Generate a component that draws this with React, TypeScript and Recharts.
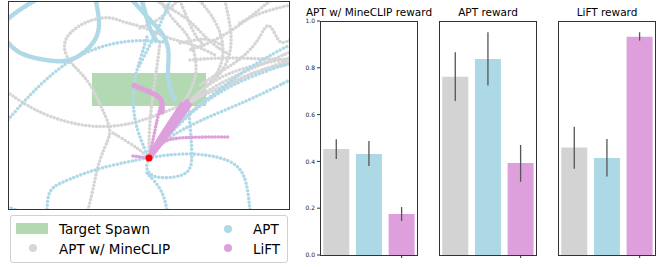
import React from 'react';
import {
  LineChart, Line, XAxis, YAxis, ReferenceArea, ReferenceDot,
  BarChart, Bar, Cell, ErrorBar,
} from 'recharts';

// trajectories (x, y in map units, y grows downward)
const spawn = [149, 158];
const targetX = [92, 206];
const targetY = [73, 106];

const grayPaths: number[][][] = [
  [[88, 210], [93, 190], [97, 168], [104, 148], [112, 133], [106, 117], [98, 100], [90, 83], [78, 70], [66, 58], [63, 43], [70, 32], [83, 23], [98, 18], [112, 17], [125, 23], [142, 26], [160, 35], [175, 40], [195, 45], [215, 55]],
  [[10, 94], [33, 110], [67, 123], [100, 128], [133, 124], [160, 114], [187, 103], [215, 90], [250, 74], [290, 60]],
  [[149, 158], [165, 130], [185, 105], [210, 82], [240, 68], [290, 58]],
  [[149, 158], [160, 135], [178, 112], [200, 95], [230, 78], [260, 65], [290, 52]],
  [[200, 1], [212, 15], [222, 35], [224, 55], [218, 75], [200, 92], [180, 110], [160, 135], [149, 158]],
  [[225, 1], [230, 23], [232, 43], [228, 63], [215, 80]],
  [[290, 40], [280, 45], [275, 33], [268, 22], [262, 33], [255, 45], [240, 60], [220, 72], [200, 85]],
  [[157, 1], [170, 8], [180, 14], [195, 25], [210, 43], [230, 55]],
  [[160, 43], [157, 67], [152, 100], [149, 130], [149, 158]],
  [[180, 1], [188, 20], [196, 38], [206, 47]],
  [[270, 1], [250, 17], [233, 30], [210, 43], [190, 50]],
  [[113, 133], [128, 142], [140, 150], [149, 158]],
  [[160, 1], [173, 20], [187, 33], [193, 47], [197, 65], [195, 83], [180, 110], [155, 145]],
  [[140, 28], [160, 20], [173, 5], [178, 1]],
  [[180, 43], [195, 40], [207, 38], [222, 45]],
  [[190, 60], [215, 58], [240, 58], [265, 59], [290, 60]],
  [[240, 23], [255, 15], [270, 10], [290, 5]],
  [[150, 158], [175, 125], [205, 100], [235, 80], [265, 68], [290, 64]],
];

const bluePaths: number[][][] = [
  [[8, 120], [25, 100], [45, 80], [67, 62], [90, 50], [117, 42], [143, 40], [165, 42]],
  [[147, 37], [140, 60], [133, 83], [133, 110], [137, 130], [145, 150], [149, 158]],
  [[149, 158], [175, 125], [200, 105], [225, 85], [257, 62], [290, 45]],
  [[149, 158], [180, 122], [207, 100], [240, 80], [290, 63]],
  [[149, 158], [163, 140], [200, 120], [250, 100], [290, 80]],
  [[149, 158], [165, 155], [195, 153], [225, 158], [240, 167], [247, 182], [250, 210]],
  [[149, 158], [145, 168], [152, 178], [175, 178], [192, 172], [192, 150], [190, 125], [188, 100]],
  [[147, 173], [160, 187], [165, 200], [167, 210]],
  [[147, 158], [127, 162], [100, 168], [80, 175], [60, 183], [48, 190], [47, 210]],
  [[170, 1], [160, 25], [150, 45], [138, 68]],
  [[8, 207], [16, 210]],
];

const blueThickPaths: number[][][] = [
  [[133, 1], [150, 20], [163, 33], [170, 50], [167, 73], [170, 90], [175, 100]],
  [[34, 1], [22, 8], [6, 20], [0, 28], [4, 38], [14, 50], [28, 57], [50, 61], [67, 62], [82, 55], [95, 42], [100, 28], [98, 12], [96, 1]],
  [[142, 1], [146, 15], [150, 30], [157, 42]],
];

const pinkPaths: number[][][] = [
  [[149, 158], [153, 140], [157, 120], [162, 100]],
  [[149, 158], [160, 143], [172, 138], [200, 137], [230, 137]],
  [[133, 156], [149, 158]],
];

const pinkThickPaths: number[][][] = [
  [[149, 158], [160, 138], [172, 120], [183, 103]],
  [[149, 158], [162, 135], [175, 118], [188, 100]],
  [[149, 158], [165, 138], [180, 118], [190, 104]],
  [[162, 112], [163, 98], [150, 92], [133, 85]],
];

// bar panels
const methods = ['APT w/ MineCLIP', 'APT', 'LiFT'];
const colors = ['#d3d3d3', '#add8e6', '#dda0dd'];
const panelTitles = ['APT w/ MineCLIP reward', 'APT reward', 'LiFT reward'];
const yTicks = [0, 0.2, 0.4, 0.6, 0.8, 1.0];

const mineclipMean = [0.453, 0.432, 0.175];
const mineclipLo = [0.41, 0.38, 0.145];
const mineclipHi = [0.495, 0.487, 0.205];

const aptMean = [0.762, 0.838, 0.393];
const aptLo = [0.658, 0.724, 0.313];
const aptHi = [0.866, 0.952, 0.47];

const liftMean = [0.459, 0.415, 0.933];
const liftLo = [0.369, 0.335, 0.916];
const liftHi = [0.548, 0.496, 0.952];

const toPts = (p: number[][]) => p.map(([x, y]) => ({ x, y }));

const buildRows = (mean: number[], lo: number[], hi: number[]) =>
  methods.map((m, i) => ({ name: m, value: mean[i], err: [mean[i] - lo[i], hi[i] - mean[i]] }));

const panels = [
  buildRows(mineclipMean, mineclipLo, mineclipHi),
  buildRows(aptMean, aptLo, aptHi),
  buildRows(liftMean, liftLo, liftHi),
];
const plotLefts = [320, 439, 558];

const font = '"DejaVu Sans", sans-serif';

function track(p: number[][], key: string, color: string, width: number, gap: number) {
  return (
    <Line
      key={key}
      data={toPts(p)}
      dataKey="y"
      type="basis"
      stroke={color}
      strokeWidth={width}
      strokeDasharray={`0 ${gap}`}
      strokeLinecap="round"
      dot={false}
      activeDot={false}
      isAnimationActive={false}
    />
  );
}

function TrajectoryMap() {
  return (
    <div style={{ position: 'absolute', left: 8, top: 1, width: 282, height: 209 }}>
      <LineChart width={282} height={209} margin={{ top: 0, right: 0, bottom: 0, left: 0 }}>
        <XAxis type="number" dataKey="x" domain={[8, 290]} hide allowDataOverflow />
        <YAxis type="number" dataKey="y" domain={[1, 210]} reversed hide allowDataOverflow />
        <ReferenceArea x1={targetX[0]} x2={targetX[1]} y1={targetY[0]} y2={targetY[1]} fill="#b3d9b3" fillOpacity={1} stroke="none" />
        {grayPaths.map((p, i) => track(p, 'g' + i, '#d6d6d6', 3.6, 3.6))}
        {bluePaths.map((p, i) => track(p, 'b' + i, '#b0d9e7', 3.6, 3.8))}
        {blueThickPaths.map((p, i) => track(p, 'bt' + i, '#b0d9e7', 4.8, 2.8))}
        {pinkPaths.map((p, i) => track(p, 'p' + i, '#dda0dd', 3.6, 3.2))}
        {pinkThickPaths.map((p, i) => track(p, 'pt' + i, '#dda0dd', 5.2, 1.8))}
        <ReferenceDot x={spawn[0]} y={spawn[1]} r={3.5} fill="#ff0000" stroke="none" />
      </LineChart>
      <div style={{ position: 'absolute', left: 0, top: 0, width: 282, height: 209, boxSizing: 'border-box', border: '1px solid #333', pointerEvents: 'none' }} />
    </div>
  );
}

function MapLegend() {
  const text: React.CSSProperties = { position: 'absolute', fontSize: 13.5, lineHeight: '16px', color: '#000', whiteSpace: 'nowrap' };
  const dot = (x: number, y: number, c: string): React.CSSProperties => ({
    position: 'absolute', left: x - 4, top: y - 4, width: 8, height: 8, borderRadius: 4, background: c,
  });
  return (
    <div style={{ position: 'absolute', left: 10, top: 215, width: 278, height: 48, boxSizing: 'border-box', border: '1px solid #d0d0d0', borderRadius: 3 }}>
      <div style={{ position: 'absolute', left: 5, top: 7, width: 32, height: 11, background: '#b3d9b3' }} />
      <div style={{ ...text, left: 48, top: 5 }}>Target Spawn</div>
      <div style={dot(22, 32, '#d6d6d6')} />
      <div style={{ ...text, left: 48, top: 25 }}>APT w/ MineCLIP</div>
      <div style={dot(217, 13, '#b0d9e7')} />
      <div style={{ ...text, left: 242, top: 5 }}>APT</div>
      <div style={dot(217, 32, '#dda0dd')} />
      <div style={{ ...text, left: 242, top: 25 }}>LiFT</div>
    </div>
  );
}

function RewardPanel({ idx }: { idx: number }) {
  const left = plotLefts[idx];
  const first = idx === 0;
  return (
    <>
      <div style={{ position: 'absolute', left: left - 20, width: 138, top: 5, textAlign: 'center', fontSize: 10.5, lineHeight: '14px', whiteSpace: 'nowrap' }}>
        {panelTitles[idx]}
      </div>
      <div style={{ position: 'absolute', left: left - 30, top: 0 }}>
        <BarChart width={128} height={267} data={panels[idx]} margin={{ top: 21, right: 0, bottom: 0, left: 0 }} barCategoryGap="10%">
          <XAxis dataKey="name" tick={() => <g />} tickSize={3} axisLine={false} tickLine={{ stroke: '#333' }} height={12} />
          <YAxis
            type="number"
            domain={[0, 1]}
            ticks={yTicks}
            width={30}
            axisLine={false}
            tickSize={3}
            tickLine={first ? { stroke: '#333' } : false}
            tick={first ? { fontSize: 6, fill: '#222', fontFamily: font } : false}
            tickFormatter={(v: number) => v.toFixed(1)}
          />
          <Bar dataKey="value" isAnimationActive={false}>
            {panels[idx].map((r, i) => <Cell key={r.name} fill={colors[i]} />)}
            <ErrorBar dataKey="err" width={0} stroke="#555" strokeWidth={1.3} />
          </Bar>
        </BarChart>
      </div>
      <div style={{ position: 'absolute', left, top: 21, width: 98, height: 235, boxSizing: 'border-box', border: '1px solid #333', pointerEvents: 'none' }} />
    </>
  );
}

export default function App() {
  return (
    <div style={{ position: 'absolute', left: 0, top: 0, width: 656, height: 267, background: '#fff', overflow: 'hidden', fontFamily: font }}>
      <TrajectoryMap />
      <MapLegend />
      {[0, 1, 2].map(i => <RewardPanel key={i} idx={i} />)}
    </div>
  );
}
